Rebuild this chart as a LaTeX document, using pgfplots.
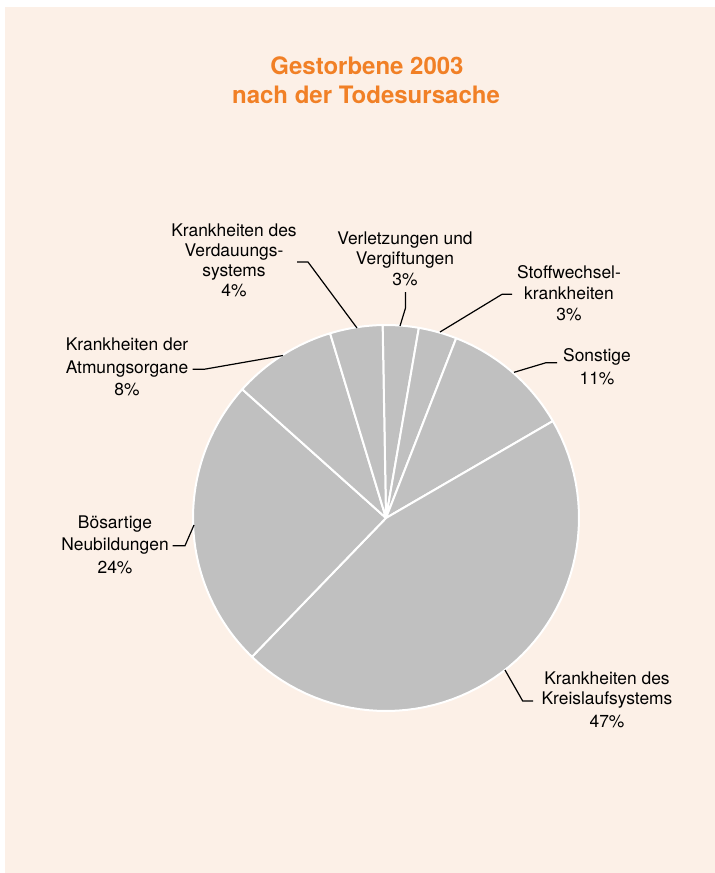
\documentclass[border=0pt]{standalone}
\usepackage{fontspec}
\setmainfont{TeX Gyre Heros}
\usepackage{pgfplots}
\usepackage{pgfplotstable}
\pgfplotsset{compat=1.18}
\definecolor{peach}{RGB}{252,240,231}
\definecolor{titleorange}{RGB}{241,128,38}
\definecolor{slicegray}{RGB}{192,192,192}

\tikzset{
  slice/.style={fill=slicegray, draw=white, line width=1pt, line join=round},
  lbl/.style={anchor=base, font=\fontsize{8.7}{10}\selectfont, inner sep=0pt},
  ttl/.style={anchor=base, font=\fontsize{12}{14}\selectfont\bfseries, text=titleorange, inner sep=0pt},
  leader/.style={black, line width=0.6pt},
}

% share of deaths by cause (percent), clockwise from the top
\pgfplotstableread{
cause value
Verletzungen 3.0
Stoffwechsel 3.2
Sonstige 10.7
Kreislauf 45.6
Neubildungen 24.4
Atmung 8.7
Verdauung 4.4
}\piedata

\begin{document}
\begin{tikzpicture}
\begin{axis}[
  width=357.5pt, height=436.5pt, scale only axis,
  xmin=0, xmax=715, ymin=0, ymax=873, y dir=reverse,
  hide axis, clip=false,
]
\fill[white] (axis cs:0,0) rectangle (axis cs:715,873);
\fill[peach] (axis cs:5,7) rectangle (axis cs:715,873);

\pgfplotstablegetrowsof{\piedata}
\pgfmathtruncatemacro\nrows{\pgfplotsretval-1}
\def\angstart{91}
\pgfplotsforeachungrouped \i in {0,...,\nrows}{%
  \pgfplotstablegetelem{\i}{value}\of\piedata
  \pgfmathsetmacro\angend{\angstart-3.6*\pgfplotsretval}%
  \edef\doslice{\noexpand\addplot[slice, samples=60, domain=\angend:\angstart] ({386+193*cos(x)},{518-193*sin(x)}) -- (axis cs:386,518) -- cycle;}%
  \doslice
  \global\let\angstart\angend
}

% leader lines
\draw[leader] (axis cs:357,328) -- (axis cs:308,262) -- (axis cs:297,262);
\draw[leader] (axis cs:400,326) -- (axis cs:405.5,308) -- (axis cs:405.5,292);
\draw[leader] (axis cs:440,332) -- (axis cs:502,294.3) -- (axis cs:512,294.3);
\draw[leader] (axis cs:514,372.3) -- (axis cs:546,362.7) -- (axis cs:557,362.7);
\draw[leader] (axis cs:505,670) -- (axis cs:522.7,701) -- (axis cs:533,701);
\draw[leader] (axis cs:194,525) -- (axis cs:185,545.7) -- (axis cs:172.5,545.7);
\draw[leader] (axis cs:283,355.5) -- (axis cs:204,369.3) -- (axis cs:192.5,369.3);

% title
\node[ttl] at (axis cs:367,74) {Gestorbene 2003};
\node[ttl] at (axis cs:366,103) {nach der Todesursache};

% labels
\node[lbl] at (axis cs:234,236) {Krankheiten des};
\node[lbl] at (axis cs:234,256.2) {Verdauungs-};
\node[lbl] at (axis cs:234,276.4) {systems};
\node[lbl] at (axis cs:234,296.6) {4\%};

\node[lbl] at (axis cs:405,244) {Verletzungen und};
\node[lbl] at (axis cs:405,264) {Vergiftungen};
\node[lbl] at (axis cs:405,285) {3\%};

\node[lbl] at (axis cs:569,278.3) {Stoffwechsel-};
\node[lbl] at (axis cs:569,299.3) {krankheiten};
\node[lbl] at (axis cs:569,320) {3\%};

\node[lbl] at (axis cs:597,361.7) {Sonstige};
\node[lbl] at (axis cs:597,384) {11\%};

\node[lbl] at (axis cs:127,350.7) {Krankheiten der};
\node[lbl] at (axis cs:127,373.3) {Atmungsorgane};
\node[lbl] at (axis cs:127,395.7) {8\%};

\node[lbl] at (axis cs:115,528.3) {Bösartige};
\node[lbl] at (axis cs:115,550) {Neubildungen};
\node[lbl] at (axis cs:115,573.3) {24\%};

\node[lbl] at (axis cs:607,684) {Krankheiten des};
\node[lbl] at (axis cs:607,704.3) {Kreislaufsystems};
\node[lbl] at (axis cs:607,727.3) {47\%};
\end{axis}
\end{tikzpicture}
\end{document}
